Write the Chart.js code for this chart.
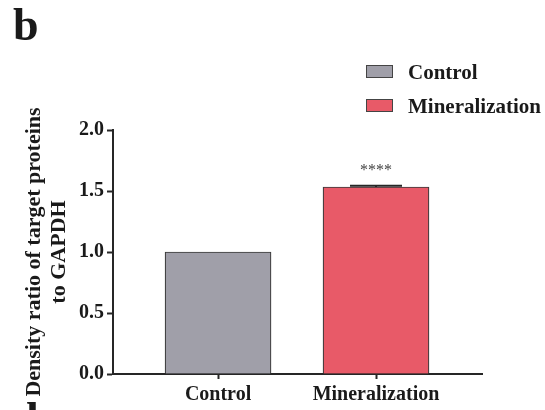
<!DOCTYPE html>
<html>
<head>
<meta charset="utf-8">
<script src="https://cdn.jsdelivr.net/npm/chart.js@4"></script>
<style>
  html, body { margin: 0; padding: 0; background: #fff; }
  #wrap { width: 545px; height: 410px; position: relative; }
</style>
</head>
<body>
<div id="wrap"><canvas id="chart"></canvas></div>
<script>
const categories = ["Control", "Mineralization"];
const values = [1.0, 1.533];
const errors = [0, 0.01];
const significance = ["", "****"];
const barColors = ["#a09fa9", "#e85a68"];
const yTicks = [0, 0.5, 1.0, 1.5, 2.0];

const serif = "'Liberation Serif', 'Times New Roman', serif";
const ink = "#262626";

// error caps, stars, panel letter and the legend box
const extras = {
  id: "extras",
  afterDatasetsDraw(chart) {
    const { ctx, scales: { x, y } } = chart;
    ctx.save();
    ctx.strokeStyle = ink;
    ctx.lineWidth = 2;
    values.forEach((v, i) => {
      if (!errors[i]) return;
      const cx = x.getPixelForValue(i);
      const top = y.getPixelForValue(v + errors[i]);
      const base = y.getPixelForValue(v);
      ctx.beginPath();
      ctx.moveTo(cx, base);
      ctx.lineTo(cx, top);
      ctx.moveTo(cx - 26, top);
      ctx.lineTo(cx + 26, top);
      ctx.stroke();
    });
    ctx.fillStyle = "#444";
    ctx.font = "16px " + serif;
    ctx.textAlign = "center";
    ctx.textBaseline = "alphabetic";
    significance.forEach((s, i) => {
      if (!s) return;
      const top = y.getPixelForValue(values[i] + errors[i]);
      ctx.fillText(s, x.getPixelForValue(i), top - 11);
    });
    ctx.restore();
  },
  afterDraw(chart) {
    const ctx = chart.ctx;
    ctx.save();
    ctx.fillStyle = "#1a1a1a";
    ctx.font = "bold 46px " + serif;
    ctx.textAlign = "left";
    ctx.textBaseline = "alphabetic";
    ctx.fillText("b", 13, 40);
    ctx.fillText("d", 13, 434);

    ctx.font = "bold 21px " + serif;
    categories.forEach((c, i) => {
      const top = 65 + i * 34;
      ctx.fillStyle = barColors[i];
      ctx.fillRect(366, top, 27, 13);
      ctx.strokeStyle = "#444";
      ctx.lineWidth = 1;
      ctx.strokeRect(366.5, top + 0.5, 26, 12);
      ctx.fillStyle = "#1a1a1a";
      ctx.fillText(c, 408, top + 14);
    });
    ctx.restore();
  }
};

new Chart(document.getElementById("chart"), {
  type: "bar",
  data: {
    datasets: [{
      data: categories.map((c, i) => ({ x: i, y: values[i] })),
      backgroundColor: barColors,
      borderColor: "#3a3a3a",
      borderWidth: 1.2,
      borderSkipped: "bottom",
      barThickness: 106
    }]
  },
  options: {
    responsive: true,
    maintainAspectRatio: false,
    animation: false,
    layout: { padding: { left: 0, right: 63, top: 130, bottom: 0 } },
    plugins: { legend: { display: false }, tooltip: { enabled: false } },
    scales: {
      x: {
        type: "linear",
        offset: false,
        min: -0.665,
        max: 1.671,
        afterBuildTicks: (s) => { s.ticks = categories.map((c, i) => ({ value: i })); },
        afterFit: (s) => { s.height = 36; },
        ticks: {
          callback: (v) => categories[v],
          color: "#1a1a1a",
          font: { family: serif, size: 20, weight: "bold", lineHeight: 1 },
          padding: 6,
          maxRotation: 0,
          autoSkip: false
        },
        grid: { offset: false, drawOnChartArea: false, tickLength: 5, tickWidth: 2, color: ink },
        border: { display: true, color: ink, width: 2 }
      },
      y: {
        min: 0,
        max: 2.0,
        afterBuildTicks: (s) => { s.ticks = yTicks.map((v) => ({ value: v })); },
        afterFit: (s) => { s.width = 113; },
        ticks: {
          callback: (v) => v.toFixed(1),
          color: "#1a1a1a",
          font: { family: serif, size: 20, weight: "bold" },
          padding: 3
        },
        grid: { drawOnChartArea: false, tickLength: 6, tickWidth: 2, color: ink },
        border: { display: true, color: ink, width: 2 },
        title: {
          display: true,
          text: ["Density ratio of target proteins", "to GAPDH"],
          color: "#1a1a1a",
          font: { family: serif, size: 22, weight: "bold", lineHeight: 1.14 },
          padding: { top: 22, bottom: 0 }
        }
      }
    }
  },
  plugins: [extras]
});
</script>
</body>
</html>
